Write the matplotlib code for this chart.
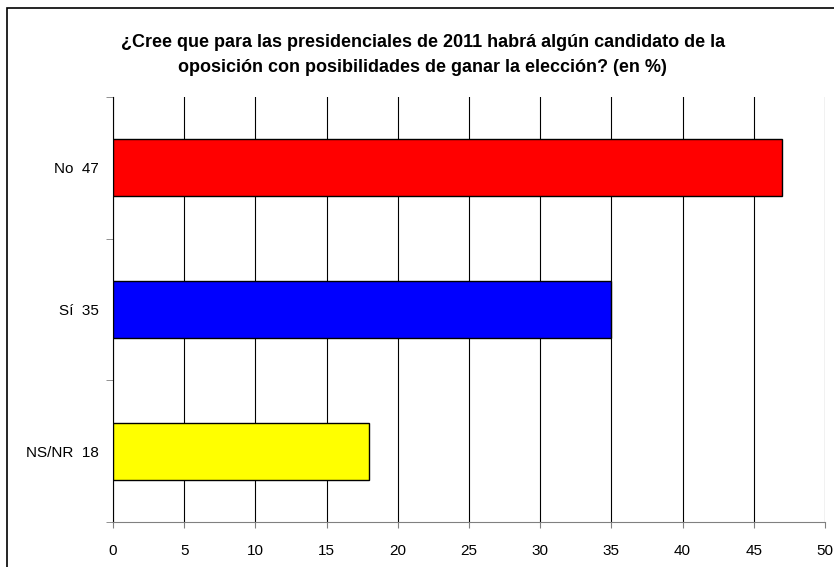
import matplotlib.pyplot as plt
from matplotlib.patches import Rectangle

plt.rcParams['font.family'] = ['Liberation Sans', 'DejaVu Sans']

categorias = ['NS/NR', 'Sí', 'No']
valores = [18, 35, 47]
colores = ['#FFFF00', '#0000FF', '#FF0000']
xticks = [0, 5, 10, 15, 20, 25, 30, 35, 40, 45, 50]
titulo = ('¿Cree que para las presidenciales de 2011 habrá algún candidato de la\n'
          'oposición con posibilidades de ganar la elección? (en %)')

fig = plt.figure(figsize=(8.34, 5.67), dpi=100)

# marco exterior del gráfico
fig.patches.append(Rectangle((7/834, -0.05), 1.1, (567-8)/567 + 0.05,
                             transform=fig.transFigure, fill=False,
                             edgecolor='black', linewidth=1.2, clip_on=False))

ax = fig.add_axes([113/834, 45/567, 712/834, 425/567])
ypos = list(range(len(categorias)))
ax.barh(ypos, valores, height=0.4, color=colores, edgecolor='black', linewidth=1, zorder=3)

ax.set_xlim(0, 50)
ax.set_ylim(-0.5, 2.5)
ax.set_xticks(xticks)
ax.set_xticklabels([str(t) for t in xticks], fontsize=11)
ax.tick_params(axis='x', length=4, direction='out', color='#808080', pad=12)
ax.set_yticks(ypos)
ax.set_yticklabels([f'{c}  {v}' for c, v in zip(categorias, valores)], fontsize=11)
ax.tick_params(axis='y', length=0, pad=10)
ax.set_yticks([-0.5, 0.5, 1.5, 2.5], minor=True)
ax.tick_params(axis='y', which='minor', length=5, color='#808080')

ax.grid(axis='x', color='black', linewidth=0.8, zorder=0)
ax.spines['top'].set_visible(False)
ax.spines['right'].set_visible(False)
ax.spines['bottom'].set_color('#808080')
ax.spines['left'].set_color('black')

fig.text(0.507, (567-55)/567, titulo, ha='center', va='center', fontsize=13,
         fontweight='bold', linespacing=1.65)

fig.savefig('out.png', dpi=100)
